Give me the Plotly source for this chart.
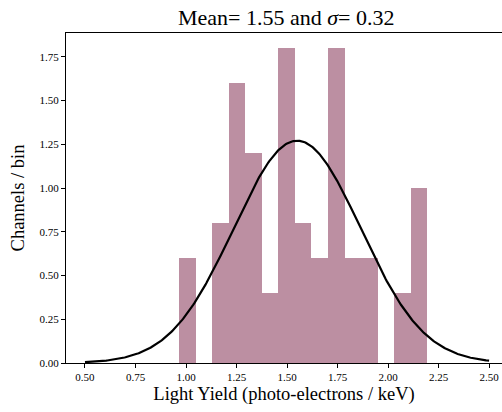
import numpy as np
import plotly.graph_objects as go

# Histogram (density)
bin_start = 0.965
bin_width = 0.082
densities = [0.6, 0.0, 0.8, 1.6, 1.2, 0.4, 1.8, 0.8, 0.6, 1.8, 0.6, 0.6, 0.0, 0.4, 1.0]

# Gaussian fit parameters
mean = 1.55
sigma = 0.314
x_fit_min, x_fit_max = 0.5, 2.5

x_ticks = [0.50, 0.75, 1.00, 1.25, 1.50, 1.75, 2.00, 2.25, 2.50]
y_ticks = [0.00, 0.25, 0.50, 0.75, 1.00, 1.25, 1.50, 1.75]

centers = [bin_start + bin_width * (i + 0.5) for i in range(len(densities))]

xs = np.linspace(x_fit_min, x_fit_max, 400)
ys = np.exp(-0.5 * ((xs - mean) / sigma) ** 2) / (sigma * np.sqrt(2 * np.pi))

fig = go.Figure()
fig.add_trace(go.Bar(x=centers, y=densities, width=bin_width,
                     marker=dict(color="#bc8fa2", line=dict(width=0)),
                     showlegend=False))
fig.add_trace(go.Scatter(x=xs, y=ys, mode="lines", line=dict(color="black", width=2.2),
                         showlegend=False))

font_family = "Liberation Serif, Times New Roman, serif"
fig.update_layout(
    width=502, height=412,
    margin=dict(l=66, r=0, t=33, b=49, autoexpand=False),
    paper_bgcolor="white", plot_bgcolor="white",
    bargap=0,
    font=dict(family=font_family, color="black", size=11),
    title=dict(text="Mean= 1.55 and <i>σ</i>= 0.32", xref="paper", x=0.505, xanchor="center",
               yref="container", y=0.958, yanchor="middle", font=dict(size=22, family=font_family)),
    xaxis=dict(range=[0.406, 2.564], tickvals=x_ticks,
               ticktext=[f"{v:.2f}" for v in x_ticks],
               showgrid=False, zeroline=False, showline=True, linecolor="black",
               linewidth=1, mirror=True, ticks="outside", ticklen=4, tickcolor="black",
               tickfont=dict(size=11), automargin=False,
               title=dict(text="Light Yield (photo-electrons / keV)", font=dict(size=18.5), standoff=4)),
    yaxis=dict(range=[0, 1.886], tickvals=y_ticks,
               ticktext=[f"{v:.2f}" for v in y_ticks],
               showgrid=False, zeroline=False, showline=True, linecolor="black",
               linewidth=1, ticks="outside", ticklen=4, tickcolor="black",
               tickfont=dict(size=11), automargin=False,
               title=dict(text="Channels / bin", font=dict(size=18.5), standoff=10)),
)
fig.write_html("out.html", config={"displayModeBar": False},
               post_script="document.body.style.margin='0';document.body.style.overflow='hidden';")
